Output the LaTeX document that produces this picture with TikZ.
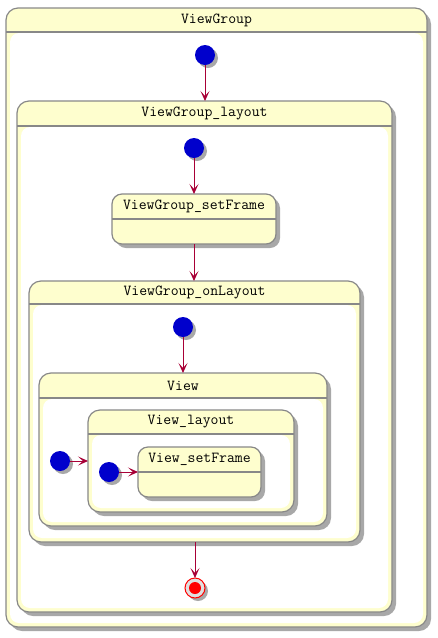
\documentclass[tikz,border=0pt]{standalone}
\usepackage{fontspec}
\usetikzlibrary{arrows.meta}
\definecolor{stfill}{HTML}{FEFECE}
\definecolor{stline}{HTML}{888888}
\definecolor{arr}{HTML}{A80036}
\definecolor{initc}{HTML}{0000CC}
\definecolor{shad}{HTML}{A8A8A8}
\tikzset{
 stbox/.style={draw=stline, line width=1.2pt, fill=stfill, inner sep=0pt, outer sep=0pt},
 lbl/.style={font=\ttfamily\addfontfeatures{FakeBold=0.8}\fontsize{15.3}{16}\selectfont, inner sep=0pt, anchor=center},
 trans/.style={draw=arr, line width=1pt, -{Stealth[length=10pt,width=9pt,inset=5pt]}},
 initst/.style={circle, fill=initc, minimum size=20pt, inner sep=0pt, outer sep=0pt},
}
\newcommand\cstate[7]{%
  \fill[shad, rounded corners=12pt] (#2+4,#3+4) rectangle (#4+4,#5+4);
  \node[stbox, rounded corners=12pt, minimum width={(#4-#2)*1pt}, minimum height={(#5-#3)*1pt}] (#1) at ({(#2+#4)/2},{(#3+#5)/2}) {};
  \draw[stline, line width=1.2pt] (#2,#6) -- (#4,#6);
  \fill[white, rounded corners=9pt] (#2+4,#6+1) rectangle (#4-4,#5-4);
  \node[lbl] (#1-lbl) at ({(#2+#4)/2},{(#3+#6)/2}) {#7};
}
\newcommand\sstate[7]{%
  \fill[shad, rounded corners=10pt] (#2+4,#3+4) rectangle (#4+4,#5+4);
  \node[stbox, rounded corners=10pt, minimum width={(#4-#2)*1pt}, minimum height={(#5-#3)*1pt}] (#1) at ({(#2+#4)/2},{(#3+#5)/2}) {};
  \draw[stline, line width=1.2pt] (#2,#6) -- (#4,#6);
  \node[lbl] (#1-lbl) at ({(#2+#4)/2},{(#3+#6)/2}) {#7};
}
\newcommand\initstate[3]{%
  \fill[shad] (#2+3,#3+3) circle (10);
  \node[initst] (#1) at (#2,#3) {};
}
\begin{document}
\begin{tikzpicture}[x=1pt,y=-1pt]
\useasboundingbox (0,0) rectangle (437,638);
\cstate{VG}{6}{8}{427}{627}{32}{ViewGroup}
\initstate{i1}{205}{55}
\cstate{VGL}{17}{101}{392}{612}{126}{ViewGroup\_layout}
\initstate{i2}{194}{148}
\sstate{VGS}{112}{194}{276}{244}{219}{ViewGroup\_setFrame}
\cstate{VGO}{29}{281}{360}{542}{304}{ViewGroup\_onLayout}
\initstate{i3}{183}{327}
\cstate{V}{39}{373}{327}{526}{398}{View}
\initstate{i4}{60}{461}
\cstate{VL}{88}{410}{294}{512}{434}{View\_layout}
\initstate{i5}{109}{472}
\sstate{VSF}{138}{447}{261}{497}{472}{View\_setFrame}
% final state
\fill[shad] (198,591) circle (10);
\node[circle, draw=red, line width=1pt, fill=black!12, minimum size=20pt, inner sep=0pt, outer sep=0pt] (fin) at (195,588) {};
\node[circle, fill=red, minimum size=12pt, inner sep=0pt] (finin) at (fin) {};
% transitions
\draw[trans] (i1.south) -- (i1.south |- VGL.north);
\draw[trans] (i2.south) -- (i2.south |- VGS.north);
\draw[trans] (VGS.south) -- (VGS.south |- VGO.north);
\draw[trans] (i3.south) -- (i3.south |- V.north);
\draw[trans] (i4.east) -- (i4.east -| VL.west);
\draw[trans] (i5.east) -- (i5.east -| VSF.west);
\draw[trans] (VGO.south -| fin.north) -- (fin.north);
\end{tikzpicture}
\end{document}
